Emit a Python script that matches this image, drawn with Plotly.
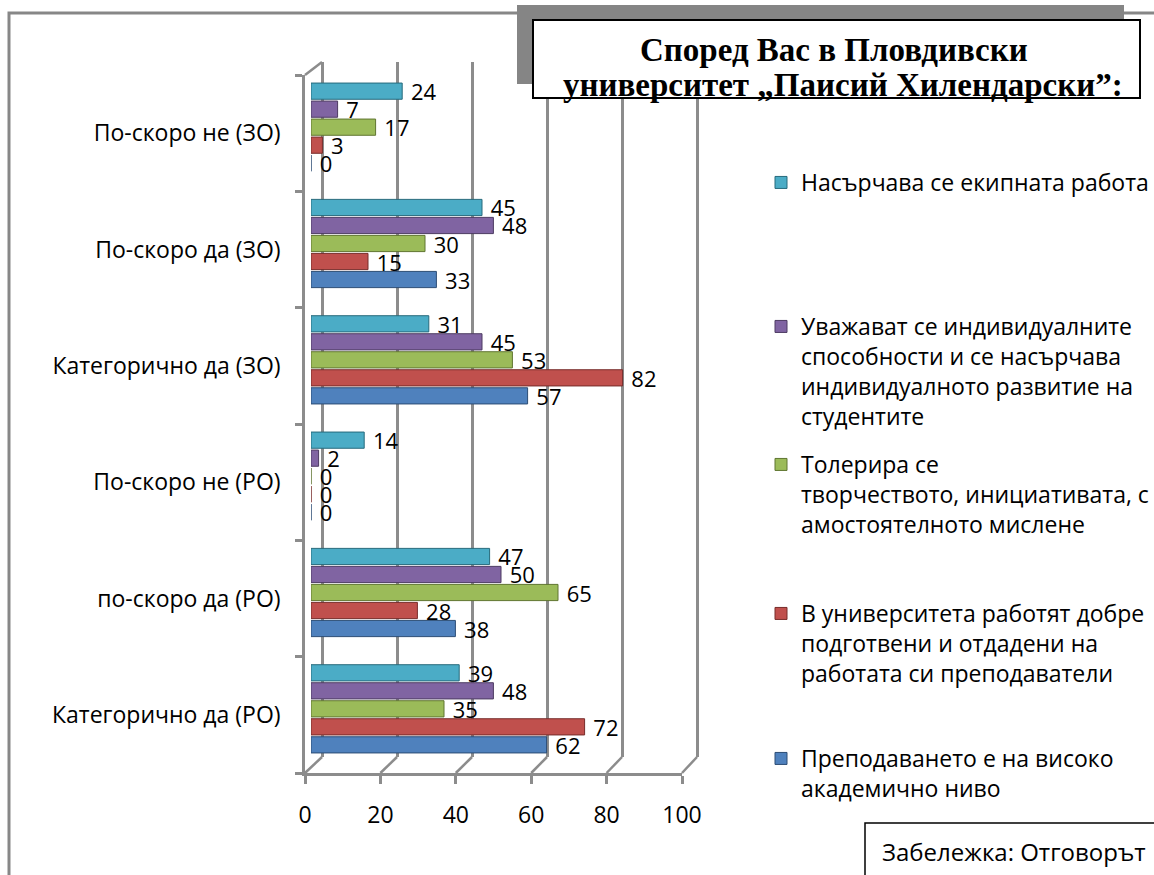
import plotly.graph_objects as go

W, H = 1154, 875

def fx(px):
    return px / W

def fy(py):
    return 1 - py / H

# ---------------- data ----------------
categories = [
    "Категорично да (РО)",
    "по-скоро да (РО)",
    "По-скоро не (РО)",
    "Категорично да (ЗО)",
    "По-скоро да (ЗО)",
    "По-скоро не (ЗО)",
]

s_teaching = [62, 38, 0, 57, 33, 0]
s_staff = [72, 28, 0, 82, 15, 3]
s_creativity = [35, 65, 0, 53, 30, 17]
s_individual = [48, 50, 2, 45, 48, 7]
s_teamwork = [39, 47, 14, 31, 45, 24]

series_names = [
    "Преподаването е на високо<br>академично ниво",
    "В университета работят добре<br>подготвени и отдадени на<br>работата си преподаватели",
    "Толерира се<br>творчеството, инициативата, с<br>амостоятелното мислене",
    "Уважават се индивидуалните<br>способности и се насърчава<br>индивидуалното развитие на<br>студентите",
    "Насърчава се екипната работа",
]
series_values = [s_teaching, s_staff, s_creativity, s_individual, s_teamwork]
series_colors = ["#4F81BD", "#C0504D", "#9BBB59", "#8064A2", "#4BACC6"]
series_edges = ["#2C4D75", "#772C2A", "#5F7530", "#4D3B62", "#276A7C"]

x_ticks = [0, 20, 40, 60, 80, 100]

title_lines = ["Според Вас в Пловдивски", "университет „Паисий Хилендарски”:"]
note_text = "Забележка: Отговорът"

FONT = "Open Sans"
FS = 23
FS_VAL = 22
GRID = "#8c8c8c"

fig = go.Figure()

# subplot 1 (x/y): back wall gridlines, drawn first (underneath)
fig.add_trace(go.Scatter(x=[None], y=[None], xaxis="x", yaxis="y",
                         showlegend=False, hoverinfo="skip"))
# subplot 2 (x2/y2): front axes with labels
fig.add_trace(go.Scatter(x=[None], y=[None], xaxis="x2", yaxis="y2",
                         showlegend=False, hoverinfo="skip"))

# subplot 3 (x3/y3): bars
legend_ids = ["legend5", "legend4", "legend3", "legend2", "legend"]
for name, vals, col, edge, lg in zip(series_names, series_values,
                                     series_colors, series_edges, legend_ids):
    fig.add_trace(go.Bar(
        y=categories, x=vals, orientation="h", name=name,
        marker=dict(color=col, line=dict(color=edge, width=1)),
        text=["\u00a0" + str(v) for v in vals], textposition="outside",
        textfont=dict(family=FONT, size=FS_VAL, color="black"),
        constraintext="none",
        cliponaxis=False, xaxis="x3", yaxis="y3", legend=lg,
    ))

# geometry of the pseudo-3D frame (pixels)
front_x0, front_x1 = 305, 682
front_top, front_bot = 75, 773
back_x0, back_x1 = 322, 697
back_top, back_bot = 62, 757
pad = 0.5  # extra range so edge gridlines are drawn

shapes = []
for t in x_ticks:
    xf = front_x0 + (front_x1 - front_x0) * t / 100
    xb = back_x0 + (back_x1 - back_x0) * t / 100
    shapes.append(dict(type="line", xref="paper", yref="paper",
                       x0=fx(xf), y0=fy(front_bot), x1=fx(xb), y1=fy(back_bot),
                       line=dict(color=GRID, width=2.5), layer="below"))
shapes.append(dict(type="line", xref="paper", yref="paper",
                   x0=fx(front_x0), y0=fy(front_top), x1=fx(back_x0), y1=fy(back_top),
                   line=dict(color=GRID, width=2.5), layer="below"))

# outer chart border
shapes.append(dict(type="rect", xref="paper", yref="paper",
                   x0=fx(9), y0=fy(13), x1=fx(1170), y1=fy(900),
                   line=dict(color="#878787", width=3), fillcolor="rgba(0,0,0,0)",
                   layer="below"))
# title shadow + box
shapes.append(dict(type="rect", xref="paper", yref="paper",
                   x0=fx(517), y0=fy(5), x1=fx(1124), y1=fy(84),
                   line=dict(width=0), fillcolor="#858585", layer="above"))
shapes.append(dict(type="rect", xref="paper", yref="paper",
                   x0=fx(533), y0=fy(20), x1=fx(1140), y1=fy(98),
                   line=dict(color="black", width=2), fillcolor="white", layer="above"))
# note box
shapes.append(dict(type="rect", xref="paper", yref="paper",
                   x0=fx(865), y0=fy(823), x1=fx(1180), y1=fy(900),
                   line=dict(color="black", width=1.5), fillcolor="white", layer="above"))

annotations = [
    dict(text="<b>" + title_lines[0] + "</b>", xref="paper", yref="paper",
         x=fx(834), y=fy(50), showarrow=False, xanchor="center", yanchor="middle",
         font=dict(family="Liberation Serif", size=33, color="black")),
    dict(text="<b>" + title_lines[1] + "</b>", xref="paper", yref="paper",
         x=fx(843), y=fy(85), showarrow=False, xanchor="center", yanchor="middle",
         font=dict(family="Liberation Serif", size=33, color="black")),
    dict(text=note_text, xref="paper", yref="paper",
         x=fx(880), y=fy(851), showarrow=False, xanchor="left", yanchor="middle",
         font=dict(family=FONT, size=24, color="black")),
]

legend_tops = {"legend": 161, "legend2": 305, "legend3": 443, "legend4": 592, "legend5": 737}
legend_defs = {}
for lg, top in legend_tops.items():
    legend_defs[lg] = dict(x=fx(761), y=fy(top), xanchor="left", yanchor="top",
                           bgcolor="rgba(0,0,0,0)", borderwidth=0,
                           valign="top", itemwidth=30,
                           font=dict(family=FONT, size=FS, color="black"))

fig.update_layout(
    width=W, height=H,
    margin=dict(l=0, r=0, t=0, b=0, autoexpand=False),
    paper_bgcolor="white", plot_bgcolor="rgba(0,0,0,0)",
    barmode="group", bargap=0.226, bargroupgap=0.1,
    showlegend=True,
    # back wall gridlines
    xaxis=dict(domain=[fx(back_x0 - (back_x1 - back_x0) * pad / 100),
                       fx(back_x1 + (back_x1 - back_x0) * pad / 100)],
               range=[-pad, 100 + pad], anchor="y",
               tickvals=x_ticks, showticklabels=False, ticks="",
               showgrid=True, gridcolor=GRID, gridwidth=2.5,
               zeroline=False, showline=False, fixedrange=True),
    yaxis=dict(domain=[fy(back_bot), fy(back_top)], range=[0, 1], anchor="x",
               visible=False, fixedrange=True),
    # front axes
    xaxis2=dict(domain=[fx(front_x0), fx(front_x1)], range=[0, 100], anchor="y2",
                tickvals=x_ticks, ticks="outside", ticklen=8, tickwidth=2.5,
                tickcolor=GRID, showline=True, linecolor=GRID, linewidth=2.5,
                showgrid=False, zeroline=False, ticklabelstandoff=12,
                tickfont=dict(family=FONT, size=FS, color="black"), fixedrange=True),
    yaxis2=dict(domain=[fy(front_bot), fy(front_top)], range=[-0.5, 5.5], anchor="x2",
                tickvals=list(range(len(categories))), ticktext=categories,
                ticks="", showline=True, linecolor=GRID, linewidth=2.5,
                showgrid=False, zeroline=False, ticklabelstandoff=17,
                minor=dict(tick0=-0.5, dtick=1, ticks="outside", ticklen=7,
                           tickwidth=2.5, tickcolor=GRID, showgrid=False),
                tickfont=dict(family=FONT, size=FS, color="black"), fixedrange=True),
    # bars
    xaxis3=dict(domain=[fx(311), fx(691)], range=[0, 100], anchor="y3",
                visible=False, fixedrange=True),
    yaxis3=dict(domain=[fy(767), fy(69)], anchor="x3", type="category",
                categoryorder="array", categoryarray=categories,
                visible=False, fixedrange=True),
    shapes=shapes,
    annotations=annotations,
    **legend_defs,
)

fig.write_html("out.html", config={"responsive": False, "displayModeBar": False},
               post_script="document.body.style.margin='0';")
